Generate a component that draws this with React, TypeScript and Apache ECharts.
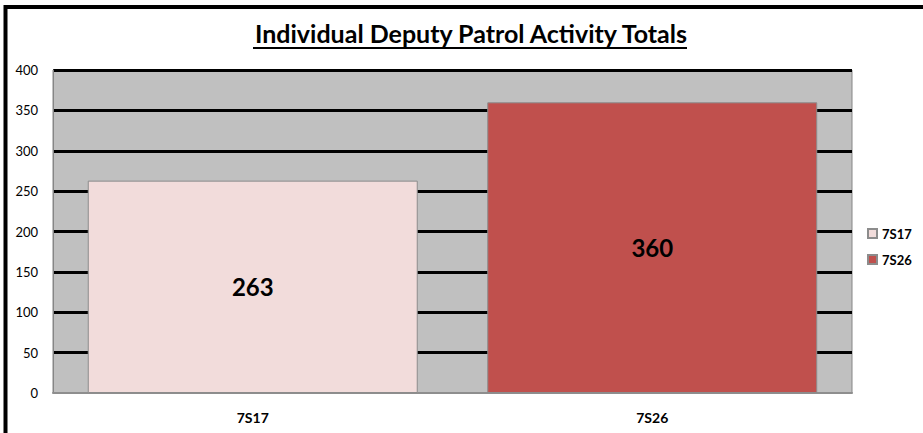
import React, { useEffect, useRef } from "react";
import * as echarts from "echarts";

const categories = ["7S17", "7S26"];
const seriesNames = ["7S17", "7S26"];
const series7S17 = [263, null];
const series7S26 = [null, 360];
const yTicks = { min: 0, max: 400, interval: 50 };
const titleText = "Individual Deputy Patrol Activity Totals";

const FONT = "Lato";

export default function App() {
  const ref = useRef<HTMLDivElement>(null);
  useEffect(() => {
    if (!ref.current) return;
    const chart = echarts.init(ref.current, null, { renderer: "svg" });
    const barLabel = {
      show: true,
      position: "inside",
      color: "#000",
      fontFamily: FONT,
      fontWeight: "bold",
      fontSize: 24,
    };
    chart.setOption({
      animation: false,
      backgroundColor: "#fff",
      textStyle: { fontFamily: FONT },
      title: {
        text: titleText,
        left: 250,
        top: 15,
        textStyle: { fontFamily: FONT, fontWeight: "bold", fontSize: 25, color: "#000" },
      },
      graphic: [
        {
          type: "rect",
          shape: { x: 5.5, y: 7, width: 1000, height: 600 },
          style: { fill: "none", stroke: "#000", lineWidth: 4 },
          silent: true,
        },
        {
          type: "line",
          shape: { x1: 253, y1: 48, x2: 687, y2: 48 },
          style: { stroke: "#000", lineWidth: 1.8 },
          silent: true,
        },
      ],
      legend: {
        orient: "vertical",
        left: 862,
        top: 222,
        itemWidth: 9,
        itemHeight: 9,
        itemGap: 13,
        icon: "rect",
        data: seriesNames,
        textStyle: { fontFamily: FONT, fontWeight: "bold", fontSize: 13, color: "#000" },
      },
      grid: {
        left: 53,
        right: 71,
        top: 70,
        bottom: 40,
        show: true,
        backgroundColor: "#C0C0C0",
        borderColor: "#868686",
        borderWidth: 1,
      },
      xAxis: {
        type: "category",
        data: categories,
        axisLine: { lineStyle: { color: "#8E8E8E", width: 2 } },
        axisTick: { show: false },
        axisLabel: {
          margin: 17,
          fontFamily: FONT,
          fontWeight: "bold",
          fontSize: 14,
          color: "#000",
        },
      },
      yAxis: {
        type: "value",
        min: yTicks.min,
        max: yTicks.max,
        interval: yTicks.interval,
        axisLine: { show: true, lineStyle: { color: "#868686", width: 1 } },
        axisTick: { show: false },
        axisLabel: { margin: 15, fontFamily: FONT, fontSize: 13, color: "#000" },
        splitLine: {
          show: true,
          showMinLine: false,
          lineStyle: { color: "#000", width: 3 },
        },
      },
      series: [
        {
          name: seriesNames[0],
          type: "bar",
          stack: "total",
          data: series7S17,
          barWidth: "82.6%",
          itemStyle: { color: "#F2DCDB", borderColor: "#8C8C8C", borderWidth: 1 },
          label: barLabel,
        },
        {
          name: seriesNames[1],
          type: "bar",
          stack: "total",
          data: series7S26,
          barWidth: "82.6%",
          itemStyle: { color: "#C0504D", borderColor: "#8C8C8C", borderWidth: 1 },
          label: barLabel,
        },
      ],
    });
    return () => chart.dispose();
  }, []);
  return (
    <div
      ref={ref}
      style={{ position: "fixed", left: 0, top: 0, width: 923, height: 433 }}
    />
  );
}
